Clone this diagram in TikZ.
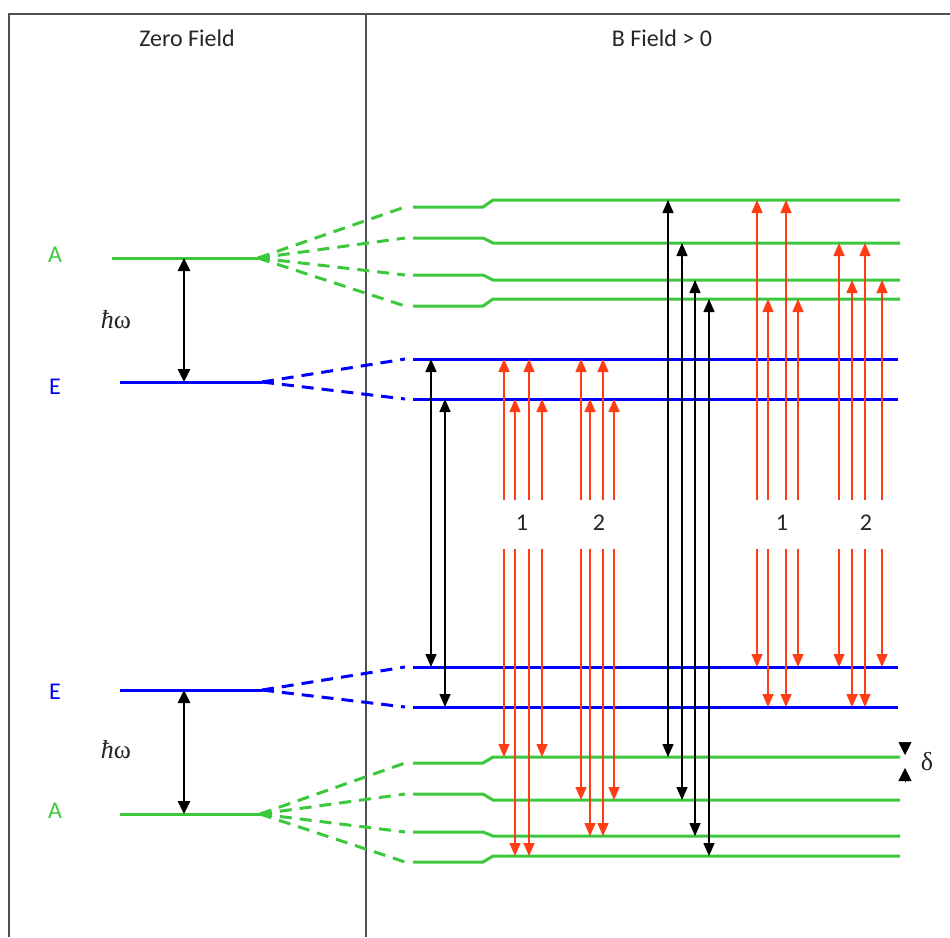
\documentclass[tikz,border=0pt]{standalone}
\usepackage{fontspec}
\setmainfont{Carlito}
\newfontfamily\greekfont{Liberation Serif}
\usetikzlibrary{arrows.meta}
\definecolor{LevelGreen}{HTML}{3CC83C}
\definecolor{LevelBlue}{HTML}{0000FF}
\definecolor{LineRed}{HTML}{FF3D14}
\definecolor{FrameGray}{HTML}{505050}
\definecolor{TextInk}{HTML}{262626}

\begin{document}
\begin{tikzpicture}[x=1pt,y=-1pt,every node/.style={font=\fontsize{24}{28}\selectfont,text=TextInk},sym/.style={font=\greekfont\fontsize{26}{30}\selectfont},frame/.style={line width=1.3pt,draw=FrameGray},glevel/.style={line width=3pt,draw=LevelGreen},blevel/.style={line width=3pt,draw=LevelBlue},gdash/.style={glevel,dash pattern=on 12pt off 8pt},bdash/.style={blevel,dash pattern=on 12pt off 8pt},hwarrow/.style={{Triangle[length=13pt,width=12pt]}-{Triangle[length=13pt,width=12pt]},line width=2.6pt},barrow/.style={{Triangle[length=13pt,width=11pt]}-{Triangle[length=13pt,width=11pt]},line width=1.5pt},rarrow/.style={-{Triangle[length=13pt,width=11pt]},line width=1.5pt,draw=LineRed,fill=LineRed},darrow/.style={-{Triangle[length=13pt,width=13pt]},line width=0.5pt}]
\useasboundingbox (0,0) rectangle (950,937);
\fill[white] (0,0) rectangle (950,937);

% frame and headings
\draw[frame] (9,937) -- (9,14) -- (950,14);
\draw[frame] (366,14) -- (366,937);
\node (zero) at (187,38) {Zero Field};
\node (bfield) at (662,38) {B Field > 0};

% zero field levels
\draw[glevel] (112,258) -- (258,258) coordinate (zAu);
\draw[blevel] (120,382) -- (262,382) coordinate (zEu);
\draw[blevel] (120,690) -- (262,690) coordinate (zEl);
\draw[glevel] (120,814) -- (260,814) coordinate (zAl);
\node[text=LevelGreen] (labAu) at (55,255) {A};
\node[text=LevelBlue] (labEu) at (55,387) {E};
\node[text=LevelBlue] (labEl) at (55,692) {E};
\node[text=LevelGreen] (labAl) at (55,811) {A};
\draw[hwarrow] (184,0 |- zAu) -- (184,0 |- zEu);
\draw[hwarrow] (184,0 |- zEl) -- (184,0 |- zAl);
\node[sym] (hwu) at (116,320) {\itshape ħ\upshape ω};
\node[sym] (hwl) at (116,750) {\itshape ħ\upshape ω};

% split levels
\foreach \n/\yl/\yr in {u1/207/200,u2/238/243,u3/275/280,u4/306/299,l1/763/757,l2/794/800,l3/832/836,l4/862/856}{
  \draw[glevel] (413,\yl) -- (483,\yl) -- (493,\yr) -- (900,\yr) coordinate (g\n);
  \coordinate (gd\n) at (405,\yl);
}
\foreach \n/\y in {u1/359,u2/399,l1/667,l2/707}{
  \draw[blevel] (413,\y) -- (898,\y) coordinate (b\n);
  \coordinate (bd\n) at (405,\y);
}
\foreach \n in {u1,u2,u3,u4} \draw[gdash] (zAu) -- (gd\n);
\foreach \n in {l1,l2,l3,l4} \draw[gdash] (zAl) -- (gd\n);
\draw[bdash] (zEu) -- (bdu1);
\draw[bdash] (zEu) -- (bdu2);
\draw[bdash] (zEl) -- (bdl1);
\draw[bdash] (zEl) -- (bdl2);

% transitions
\foreach \x/\a/\b in {431/bu1/bl1,445/bu2/bl2,668/gu1/gl1,682/gu2/gl2,695/gu3/gl3,709/gu4/gl4}
  \draw[barrow] (\x,0 |- \a) -- (\x,0 |- \b);

\coordinate (rtop) at (0,500);
\coordinate (rbot) at (0,549);
\foreach \x/\a/\b in {504/bu1/gl1,515/bu2/gl4,529/bu1/gl4,542/bu2/gl1,581/bu1/gl2,590/bu2/gl3,603/bu1/gl3,614/bu2/gl2,757/gu1/bl1,768/gu4/bl2,786/gu1/bl2,798/gu4/bl1,839/gu2/bl1,852/gu3/bl2,865/gu2/bl2,882/gu3/bl1}{
  \draw[rarrow] (\x,0 |- rtop) -- (\x,0 |- \a);
  \draw[rarrow] (\x,0 |- rbot) -- (\x,0 |- \b);
}
\node (n1a) at (522,523) {1};
\node (n2a) at (599,523) {2};
\node (n1b) at (782,523) {1};
\node (n2b) at (866,523) {2};

% splitting
\coordinate (dtop) at (905,742);
\coordinate (dbot) at (905,781);
\draw[darrow] (dtop) -- (905,755);
\draw[darrow] (dbot) -- (905,768);
\node[sym] (delta) at (927,762) {δ};

\end{tikzpicture}
\end{document}
